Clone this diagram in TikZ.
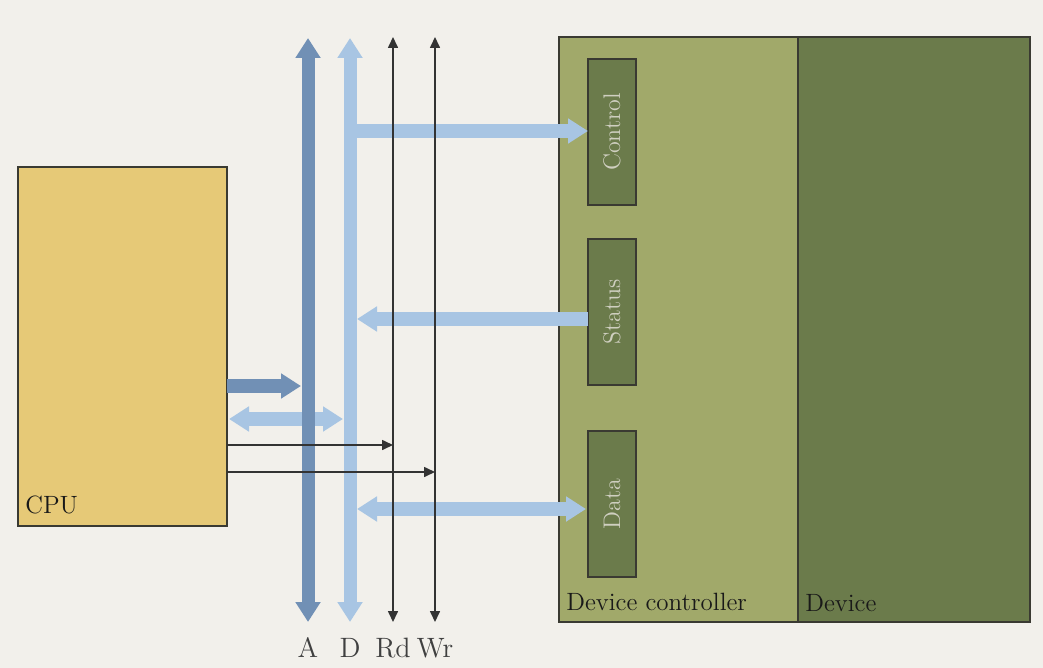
\documentclass[tikz,border=0pt]{standalone}
\usetikzlibrary{arrows.meta,calc}
\definecolor{bg}{HTML}{F2F0EB}
\definecolor{cpucol}{HTML}{E6C977}
\definecolor{ctrlcol}{HTML}{A1A96A}
\definecolor{devcol}{HTML}{6B7B4B}
\definecolor{abus}{HTML}{7190B5}
\definecolor{dbus}{HTML}{A8C5E3}
\definecolor{regtext}{HTML}{CFCFC0}
\definecolor{edge}{HTML}{3A3A32}
\definecolor{thin}{HTML}{333333}
\tikzset{
  box/.style={draw=edge, line width=0.6pt, inner sep=0pt, outer sep=0pt, anchor=north west},
  reg/.style={draw=edge, line width=0.6pt, fill=devcol, inner sep=0pt, outer sep=0pt,
    minimum width=73pt, minimum height=24pt, rotate=90, text=regtext, font=\fontsize{12}{14}\selectfont},
  bigtip/.tip={Triangle[width=12pt,length=10pt]},
  smalltip/.tip={Triangle[width=5pt,length=5.5pt]},
  busA/.style={draw=abus, line width=6.5pt},
  busD/.style={draw=dbus, line width=6.5pt},
  hbusD/.style={draw=dbus, line width=7pt},
  thinline/.style={draw=thin, line width=0.8pt},
  lab/.style={inner sep=0pt, font=\fontsize{12.5}{14}\selectfont, text=black!90},
  buslab/.style={inner sep=0pt, font=\fontsize{14}{16}\selectfont, text=black!75},
}
\begin{document}
\begin{tikzpicture}[x=0.5pt,y=-0.5pt]
\fill[bg] (0,0) rectangle (1043,668);
\useasboundingbox (0,0) rectangle (1043,668);

% boxes
\node[box, fill=cpucol, minimum width=104.5pt, minimum height=179.5pt] (cpu) at (18,167) {};
\node[box, fill=ctrlcol, minimum width=119.5pt, minimum height=292.5pt] (ctrl) at (559,37) {};
\node[box, fill=devcol, minimum width=116pt, minimum height=292.5pt] (dev) at (798,37) {};
\node[lab, anchor=base west] (cpulab) at (25,513) {CPU};
\node[lab, anchor=base west] (ctrllab) at (566,610) {Device controller};
\node[lab, anchor=base west] (devlab) at (805,611) {Device};

% registers
\node[reg] (control) at (612,132) {Control};
\node[reg] (status) at (612,312) {Status};
\node[reg] (data) at (612,504) {Data};

% register ports (left side)
\coordinate (pc) at ($(control.north)+(0,-1)$);
\coordinate (ps) at ($(status.north)+(0,7)$);
\coordinate (pd) at ($(data.north)+(-2,5)$);

% bus coordinates
\coordinate (Atop) at (308,38);
\coordinate (Abot) at (308,622);
\coordinate (Dtop) at (350,38);
\coordinate (Dbot) at (350,622);
\coordinate (Rtop) at (393,37);
\coordinate (Rbot) at (393,622);
\coordinate (Wtop) at (435,37);
\coordinate (Wbot) at (435,622);

% CPU side coordinates
\coordinate (c1) at ([yshift=-109.5pt]cpu.north east);
\coordinate (c2) at ([yshift=-126pt]cpu.north east);
\coordinate (c3) at ([yshift=-139pt]cpu.north east);
\coordinate (c4) at ([yshift=-152.5pt]cpu.north east);

% CPU to buses
\draw[busA, line width=7pt, -bigtip, shorten >=3.5pt] (c1) -- (Atop |- c1);
\draw[hbusD, bigtip-bigtip, shorten >=3.5pt, shorten <=1pt] (c2) -- (Dtop |- c2);

% register connections
\draw[hbusD, -bigtip] (Dtop |- pc) -- (pc);
\draw[hbusD, -bigtip, shorten >=3.5pt] (ps) -- (Dtop |- ps);
\draw[hbusD, bigtip-bigtip, shorten <=3.5pt] (Dtop |- pd) -- (pd);

% buses
\draw[busA, bigtip-bigtip] (Atop) -- (Abot);
\draw[busD, bigtip-bigtip] (Dtop) -- (Dbot);
\draw[thinline, smalltip-smalltip] (Rtop) -- (Rbot);
\draw[thinline, smalltip-smalltip] (Wtop) -- (Wbot);

% thin control lines
\draw[thinline, -smalltip] (c3) -- (Rtop |- c3);
\draw[thinline, -smalltip] (c4) -- (Wtop |- c4);

% bus labels
\node[buslab, anchor=base] (Alab) at (308,657) {A};
\node[buslab, anchor=base] (Dlab) at (350,657) {D};
\node[buslab, anchor=base] (Rlab) at (393,657) {Rd};
\node[buslab, anchor=base] (Wlab) at (435,657) {Wr};
\end{tikzpicture}
\end{document}
